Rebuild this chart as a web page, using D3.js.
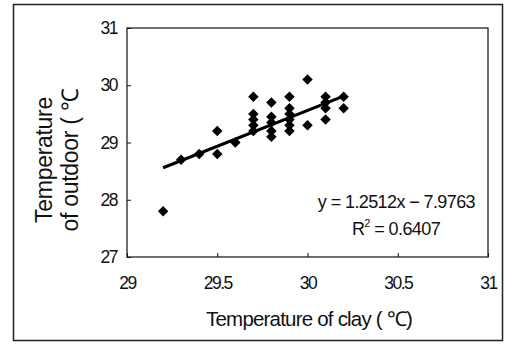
<!DOCTYPE html>
<html>
<head>
<meta charset="utf-8">
<script src="https://cdn.jsdelivr.net/npm/d3@7"></script>
<style>
  body { margin: 0; background: #fff; }
  text { font-family: "Liberation Sans", Arial, sans-serif; fill: #111; }
</style>
</head>
<body>
<div id="chart"></div>
<script>
// data
let clayTemp = [29.2, 29.3, 29.4, 29.5, 29.5, 29.6,
    29.7, 29.7, 29.7, 29.7, 29.7,
    29.8, 29.8, 29.8, 29.8, 29.8,
    29.9, 29.9, 29.9, 29.9, 29.9, 29.9,
    30.0, 30.0,
    30.1, 30.1, 30.1, 30.1,
    30.2, 30.2];
let outdoorTemp = [27.8, 28.7, 28.8, 29.2, 28.8, 29.0,
    29.8, 29.5, 29.4, 29.3, 29.2,
    29.7, 29.45, 29.35, 29.2, 29.1,
    29.8, 29.6, 29.5, 29.4, 29.3, 29.2,
    30.1, 29.3,
    29.8, 29.7, 29.6, 29.4,
    29.8, 29.6];
let xTicks = [29, 29.5, 30, 30.5, 31];
let yTicks = [27, 28, 29, 30, 31];
let slope = 1.2512, intercept = -7.9763;
let fitRange = [29.2, 30.2];

let width = 506, height = 345;
let margin = {top: 28, right: 18, bottom: 88, left: 127};

let svg = d3.select("#chart").append("svg")
    .attr("width", width)
    .attr("height", height);

// outer frame
svg.append("rect")
    .attr("x", 13.5).attr("y", 4.5)
    .attr("width", 489).attr("height", 336)
    .attr("fill", "none")
    .attr("stroke", "#222")
    .attr("stroke-width", 1.5);

let x = d3.scaleLinear()
    .domain([29, 31])
    .range([margin.left, width - margin.right]);

let y = d3.scaleLinear()
    .domain([27, 31])
    .range([height - margin.bottom, margin.top]);

// plot frame
svg.append("rect")
    .attr("x", x(29)).attr("y", y(31))
    .attr("width", x(31) - x(29)).attr("height", y(27) - y(31))
    .attr("fill", "none")
    .attr("stroke", "#111")
    .attr("stroke-width", 1.2);

let xAxis = d3.axisBottom(x)
    .tickValues(xTicks)
    .tickSizeInner(-4)
    .tickSizeOuter(0)
    .tickPadding(20)
    .tickFormat(d3.format(""));

let yAxis = d3.axisLeft(y)
    .tickValues(yTicks)
    .tickSizeInner(-4)
    .tickSizeOuter(0)
    .tickPadding(10)
    .tickFormat(d3.format(""));

let gx = svg.append("g")
    .attr("transform", "translate(0," + y(27) + ")")
    .call(xAxis);
gx.select(".domain").remove();

let gy = svg.append("g")
    .attr("transform", "translate(" + x(29) + ",0)")
    .call(yAxis);
gy.select(".domain").remove();

svg.selectAll(".tick line").attr("stroke", "#111");
svg.selectAll(".tick text")
    .attr("font-size", 17.5)
    .attr("letter-spacing", "-1.5px")
    .attr("fill", "#111");

// trend line
svg.append("line")
    .attr("x1", x(fitRange[0])).attr("y1", y(slope * fitRange[0] + intercept))
    .attr("x2", x(fitRange[1])).attr("y2", y(slope * fitRange[1] + intercept))
    .attr("stroke", "#000")
    .attr("stroke-width", 3);

// points
let diamond = d3.symbol().type(d3.symbolSquare).size(55);
svg.selectAll(".pt")
    .data(clayTemp)
    .enter().append("path")
    .attr("class", "pt")
    .attr("d", diamond)
    .attr("transform", (d, i) => "translate(" + x(d) + "," + y(outdoorTemp[i]) + ") rotate(45)")
    .attr("fill", "#000");

// equation
svg.append("text")
    .attr("x", 475).attr("y", 208)
    .attr("text-anchor", "end")
    .attr("font-size", 18)
    .attr("letter-spacing", "-0.6px")
    .text("y = 1.2512x \u2212 7.9763");

let r2 = svg.append("text")
    .attr("x", 396).attr("y", 235)
    .attr("text-anchor", "middle")
    .attr("font-size", 18)
    .attr("letter-spacing", "-0.6px");
r2.append("tspan").text("R");
r2.append("tspan").attr("dy", -8).attr("font-size", 11).text("2");
r2.append("tspan").attr("dy", 8).text(" = 0.6407");

// axis titles
svg.append("text")
    .attr("x", 309).attr("y", 326)
    .attr("text-anchor", "middle")
    .attr("font-size", 20.5)
    .attr("letter-spacing", "-0.8px")
    .text("Temperature of clay ( \u2103)");

let yTitle = svg.append("text")
    .attr("transform", "translate(52,160) rotate(-90)")
    .attr("text-anchor", "middle")
    .attr("font-size", 23)
    .attr("letter-spacing", "-0.3px");
yTitle.append("tspan").attr("x", 0).attr("y", 0).text("Temperature");
yTitle.append("tspan").attr("x", 0).attr("y", 26).text("of outdoor ( \u2103");
</script>
</body>
</html>
